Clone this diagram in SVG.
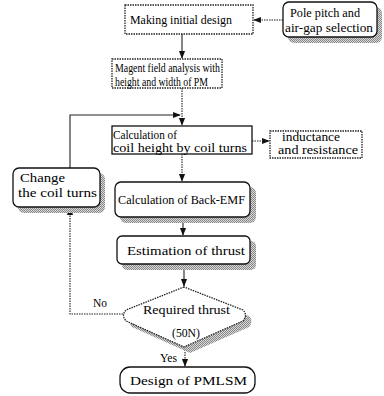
<svg xmlns="http://www.w3.org/2000/svg" width="384" height="396" viewBox="0 0 384 396" font-family="'Liberation Serif', 'Times New Roman', serif">
<defs>
<pattern id="dots" width="2" height="2" patternUnits="userSpaceOnUse">
<rect width="2" height="2" fill="#d8d8d8"/>
<rect width="1" height="1" fill="#888"/>
<rect x="1" y="1" width="1" height="1" fill="#888"/>
</pattern>
<marker id="ah" viewBox="0 0 10 10" refX="9" refY="5" markerWidth="7" markerHeight="7" orient="auto">
<path d="M0,1 L10,5 L0,9 z" fill="#111"/>
</marker>
</defs>
<style>
text{font-family:"Liberation Serif","Times New Roman",serif;font-size:12px;fill:#000}
.box{fill:#fff;stroke:#111;stroke-width:1.3}
.dot{fill:#fff;stroke:#222;stroke-width:1.3;stroke-dasharray:1.5 1}
.sh{fill:url(#dots)}
.ln{fill:none;stroke:#222;stroke-width:1.1}
.dl{fill:none;stroke:#222;stroke-width:1.1;stroke-dasharray:1.5 1}
</style>
<rect width="384" height="396" fill="#fff"/>
<g id="connectors">
<path class="dl" d="M283,20 L254,20" marker-end="url(#ah)"/>
<path class="ln" d="M182,34 L182,58" marker-end="url(#ah)"/>
<path class="dl" d="M182,88 L182,125" marker-end="url(#ah)"/>
<path class="ln" d="M70,168 L70,115 L180,115" marker-end="url(#ah)"/>
<path class="dl" d="M252,141 L269,141" marker-end="url(#ah)"/>
<path class="dl" d="M182,154 L182,181" marker-end="url(#ah)"/>
<path class="ln" d="M183,217 L183,235" marker-end="url(#ah)"/>
<path class="ln" d="M184,264 L184,286" marker-end="url(#ah)"/>
<path class="dl" d="M123,314 L70,314 L70,208" marker-end="url(#ah)"/>
<path class="dl" d="M185,347 L185,366" marker-end="url(#ah)"/>
<text x="93" y="307" font-size="11" textLength="14" lengthAdjust="spacingAndGlyphs">No</text>
<text x="160" y="362" font-size="11" textLength="17" lengthAdjust="spacingAndGlyphs">Yes</text>
</g>
<g id="n-making">
<rect class="dot" x="125" y="5" width="128" height="29"/>
<text x="130" y="24" textLength="102" lengthAdjust="spacingAndGlyphs">Making initial design</text>
</g>
<g id="n-pole">
<rect class="sh" x="288" y="7" width="94" height="36" rx="6"/>
<rect class="box" x="283" y="2" width="94" height="35" rx="6"/>
<text x="290" y="17" textLength="70" lengthAdjust="spacingAndGlyphs">Pole pitch and</text>
<text x="285" y="32" textLength="88" lengthAdjust="spacingAndGlyphs">air-gap selection</text>
</g>
<g id="n-magent">
<rect class="dot" x="112" y="59" width="110" height="29"/>
<text x="115" y="72" textLength="105" lengthAdjust="spacingAndGlyphs">Magent field analysis with</text>
<text x="115" y="85.5" textLength="93" lengthAdjust="spacingAndGlyphs">height and width of PM</text>
</g>
<g id="n-calc">
<rect class="box" x="112" y="126" width="140" height="28"/>
<text x="113" y="139" textLength="64" lengthAdjust="spacingAndGlyphs">Calculation of</text>
<text x="113" y="151.5" textLength="134" lengthAdjust="spacingAndGlyphs">coil height by coil turns</text>
</g>
<g id="n-induct">
<rect class="dot" x="270" y="131" width="92" height="27"/>
<text x="282" y="141" font-size="11" textLength="58" lengthAdjust="spacingAndGlyphs">inductance</text>
<text x="278" y="154" font-size="11" textLength="80" lengthAdjust="spacingAndGlyphs">and resistance</text>
</g>
<g id="n-change">
<rect class="sh" x="18" y="173" width="87" height="40" rx="6"/>
<rect class="box" x="13" y="168" width="87" height="39" rx="6"/>
<text x="20" y="182" textLength="45" lengthAdjust="spacingAndGlyphs">Change</text>
<text x="18" y="197" textLength="79" lengthAdjust="spacingAndGlyphs">the coil turns</text>
</g>
<g id="n-backemf">
<rect class="sh" x="120" y="187" width="136" height="36" rx="6"/>
<rect class="box" x="115" y="182" width="135" height="35" rx="6"/>
<text x="118" y="204" textLength="127" lengthAdjust="spacingAndGlyphs">Calculation of Back-EMF</text>
</g>
<g id="n-estim">
<rect class="sh" x="122" y="241" width="134" height="29" rx="5"/>
<rect class="box" x="117" y="236" width="133" height="28" rx="5"/>
<text x="127" y="254.5" font-size="12.5" textLength="118" lengthAdjust="spacingAndGlyphs">Estimation of thrust</text>
</g>
<g id="n-required">
<path class="sh" d="M190,293 L132,316 Q127,321 132,327 L190,353 L249,327 Q254,321 249,316 Z"/>
<path class="dot" d="M184,287 L126,310 Q121,315 126,321 L184,347 L243,321 Q248,315 243,310 Z"/>
<text x="143" y="314" font-size="12.5" textLength="87" lengthAdjust="spacingAndGlyphs">Required thrust</text>
<text x="172" y="337" font-size="12.5" textLength="28" lengthAdjust="spacingAndGlyphs">(50N)</text>
</g>
<g id="n-design">
<rect class="box" x="120" y="367" width="135" height="26" rx="10"/>
<text x="130" y="384.5" font-size="12.5" textLength="117" lengthAdjust="spacingAndGlyphs">Design of PMLSM</text>
</g>
</svg>
